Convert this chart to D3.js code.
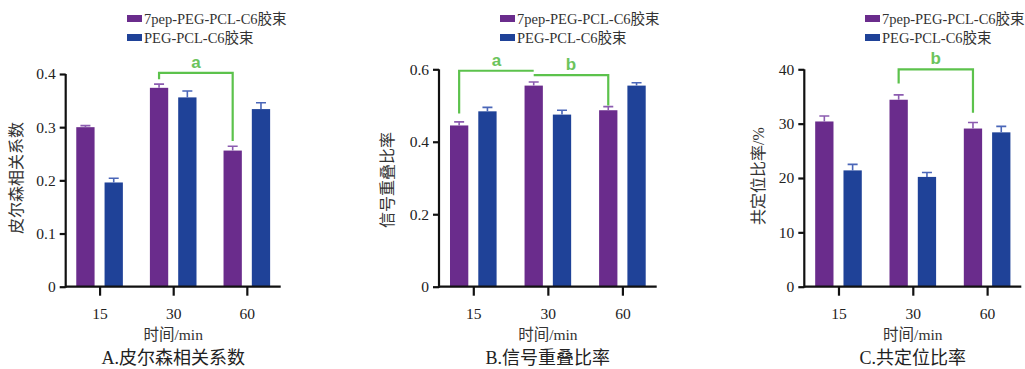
<!DOCTYPE html>
<html>
<head>
<meta charset="utf-8">
<script src="https://cdn.jsdelivr.net/npm/d3@7"></script>
<style>
    body { margin: 0; background: #fff; }
    text { font-family: "Liberation Serif", "Noto Sans CJK SC", serif; fill: #222; }
</style>
</head>
<body>
<div id="chart"></div>
<script>
// categories and series
const times = ["15", "30", "60"];
const seriesNames = ["7pep-PEG-PCL-C6胶束", "PEG-PCL-C6胶束"];
const seriesColors = ["#6a2c8c", "#1f4298"];
const errColors = ["#8c5cb0", "#4a66b8"];

// A. Pearson correlation
const pearsonPep = [0.300, 0.374, 0.256];
const pearsonPepErr = [0.003, 0.007, 0.008];
const pearsonPeg = [0.196, 0.356, 0.334];
const pearsonPegErr = [0.008, 0.012, 0.012];
const pearsonTicks = [0, 0.1, 0.2, 0.3, 0.4];

// B. signal overlap ratio
const overlapPep = [0.445, 0.555, 0.487];
const overlapPepErr = [0.010, 0.010, 0.010];
const overlapPeg = [0.484, 0.475, 0.555];
const overlapPegErr = [0.011, 0.012, 0.008];
const overlapTicks = [0, 0.2, 0.4, 0.6];

// C. colocalization ratio
const colocPep = [30.4, 34.4, 29.1];
const colocPepErr = [1.0, 0.9, 1.1];
const colocPeg = [21.4, 20.2, 28.4];
const colocPegErr = [1.1, 0.8, 1.1];
const colocTicks = [0, 10, 20, 30, 40];

// significance brackets: [from group, to group, left end y, top y, right end y, label]
const pearsonBrackets = [[1, 2, 0.39, 0.402, 0.274, "a"]];
const overlapBrackets = [[0, 1, 0.478, 0.596, 0.596, "a"], [1, 2, 0.584, 0.584, 0.50, "b"]];
const colocBrackets = [[1, 2, 37.4, 40.0, 32.0, "b"]];

const svg = d3.select("#chart").append("svg")
    .attr("width", 1025)
    .attr("height", 369);

function drawPanel(opt) {
    const g = svg.append("g");

    const x = d3.scalePoint().domain(times).range([opt.left, opt.right]).padding(0.46);
    const sub = d3.scaleBand().domain([0, 1]).range([-23.3, 23.3]).paddingInner(0.353);
    const y = d3.scaleLinear().domain([0, d3.max(opt.ticks)]).range([286.7, opt.top]);

    const rows = [];
    opt.values.forEach((vals, s) => {
        vals.forEach((v, i) => rows.push({ t: times[i], s: s, v: v, e: opt.errs[s][i] }));
    });

    // bars
    g.selectAll(".bar")
        .data(rows)
        .join("rect")
        .attr("class", "bar")
        .attr("x", d => x(d.t) + sub(d.s))
        .attr("width", sub.bandwidth())
        .attr("y", d => y(d.v))
        .attr("height", d => y(0) - y(d.v))
        .attr("fill", d => seriesColors[d.s]);

    // error bars
    g.selectAll(".err")
        .data(rows)
        .join("path")
        .attr("class", "err")
        .attr("d", d => {
            const cx = x(d.t) + sub(d.s) + sub.bandwidth() / 2;
            const y0 = y(d.v), y1 = y(d.v + d.e);
            return `M${cx},${y0}V${y1}M${cx - 5},${y1}H${cx + 5}`;
        })
        .attr("fill", "none")
        .attr("stroke", d => errColors[d.s])
        .attr("stroke-width", 1.6);

    // axes
    const yAxis = g.append("g")
        .attr("transform", `translate(${opt.left},0)`)
        .call(d3.axisLeft(y).tickValues(opt.ticks).tickSize(6).tickPadding(4)
            .tickFormat(d => d === 0 ? "0" : d3.format(opt.fmt)(d)));
    const xAxis = g.append("g")
        .attr("transform", `translate(0,${y(0)})`)
        .call(d3.axisBottom(x).tickSize(9).tickPadding(12));
    [yAxis, xAxis].forEach(a => {
        a.select(".domain").attr("stroke", "#111").attr("stroke-width", 2.2);
        a.selectAll(".tick line").attr("stroke", "#111").attr("stroke-width", 2.2);
        a.selectAll("text").attr("font-size", 15.5).attr("fill", "#333")
            .style("font-family", "'Liberation Serif', serif");
    });
    xAxis.select(".domain").attr("d", `M${opt.left},0H${opt.right}`);
    yAxis.select(".domain").attr("d", `M0,${y(d3.max(opt.ticks))}V${y(0) + 1}`);

    // brackets
    opt.brackets.forEach(b => {
        const x0 = x(times[b[0]]) + sub(0) + sub.bandwidth() / 2;
        const x1 = x(times[b[1]]) + sub(0) + sub.bandwidth() / 2;
        g.append("path")
            .attr("d", `M${x0},${y(b[2])}V${y(b[3])}H${x1}V${y(b[4])}`)
            .attr("fill", "none")
            .attr("stroke", "#5cc24c")
            .attr("stroke-width", 2.2);
        g.append("text")
            .attr("x", (x0 + x1) / 2)
            .attr("y", y(Math.max(b[3], b[2] < b[3] ? b[3] : b[2])) - 5)
            .attr("text-anchor", "middle")
            .attr("font-size", 17)
            .attr("font-weight", "bold")
            .style("font-family", "'Liberation Sans', Arial, sans-serif")
            .style("fill", "#6cc45c")
            .text(b[5]);
    });

    // y title
    g.append("text")
        .attr("transform", `translate(${opt.yTitleX},${opt.yTitleY}) rotate(-90)`)
        .attr("text-anchor", "middle")
        .attr("font-size", 16)
        .style("fill", "#333")
        .text(opt.yTitle);

    // x title
    const mid = x(times[1]);
    g.append("text")
        .attr("x", mid)
        .attr("y", 340)
        .attr("text-anchor", "middle")
        .attr("font-size", 15.5)
        .style("fill", "#333")
        .text("时间/min");

    // caption
    g.append("text")
        .attr("x", mid)
        .attr("y", 364)
        .attr("text-anchor", "middle")
        .attr("font-size", 18)
        .text(opt.caption);

    // legend
    const leg = g.append("g").attr("transform", `translate(${opt.legendX},0)`);
    seriesNames.forEach((name, s) => {
        leg.append("rect")
            .attr("x", 0)
            .attr("y", 15 + s * 19)
            .attr("width", 15)
            .attr("height", 7)
            .attr("fill", seriesColors[s]);
        leg.append("text")
            .attr("x", 17)
            .attr("y", 23.5 + s * 19)
            .attr("font-size", 14.5)
            .style("fill", "#333")
            .text(name);
    });
}

drawPanel({
    left: 65.7, right: 280.7, top: 74,
    values: [pearsonPep, pearsonPeg], errs: [pearsonPepErr, pearsonPegErr],
    ticks: pearsonTicks, fmt: ".1f", brackets: pearsonBrackets,
    yTitle: "皮尔森相关系数", yTitleX: 22, yTitleY: 178,
    caption: "A.皮尔森相关系数", legendX: 127
});

drawPanel({
    left: 439, right: 656.7, top: 69.3,
    values: [overlapPep, overlapPeg], errs: [overlapPepErr, overlapPegErr],
    ticks: overlapTicks, fmt: ".1f", brackets: overlapBrackets,
    yTitle: "信号重叠比率", yTitleX: 393, yTitleY: 180,
    caption: "B.信号重叠比率", legendX: 500
});

drawPanel({
    left: 804.3, right: 1021.3, top: 69.3,
    values: [colocPep, colocPeg], errs: [colocPepErr, colocPegErr],
    ticks: colocTicks, fmt: "d", brackets: colocBrackets,
    yTitle: "共定位比率/%", yTitleX: 764, yTitleY: 176,
    caption: "C.共定位比率", legendX: 865
});
</script>
</body>
</html>
